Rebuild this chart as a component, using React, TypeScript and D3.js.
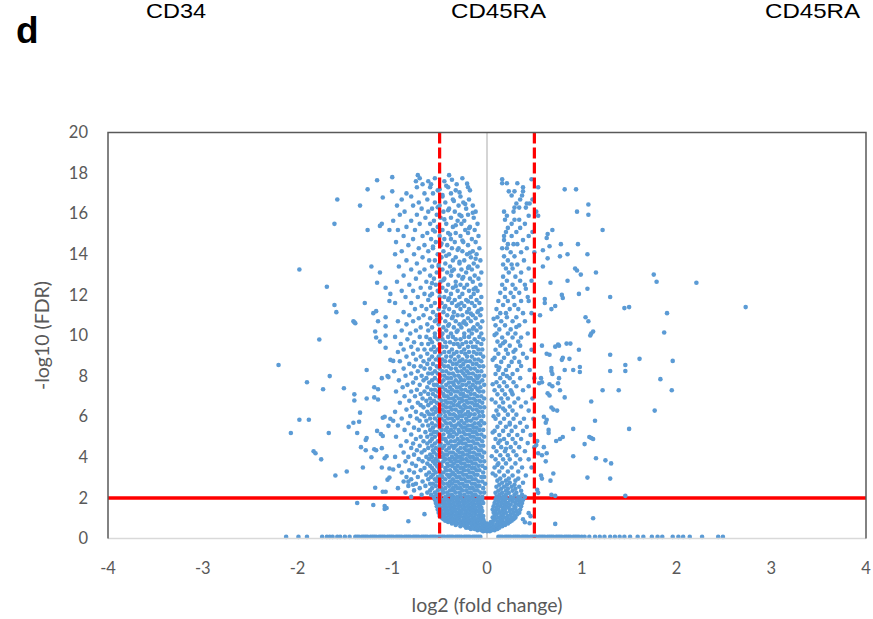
import React from 'react';
import * as d3 from 'd3';

const xTicks = [-4, -3, -2, -1, 0, 1, 2, 3, 4];
const yTicks = [0, 2, 4, 6, 8, 10, 12, 14, 16, 18, 20];
const fdrCut = 2;
const fcCuts = [-0.5, 0.5];
const headers = ['CD34', 'CD45RA', 'CD45RA'];

// genes with FDR = 1, they sit on the axis
const baseline = [
  -2.12, -1.99, -1.9, -1.74, -1.69, -1.66, -1.63, -1.58, -1.55, -1.5, -1.45,
  -1.39, -1.37, -1.35, -1.32, -1.3, -1.28, -1.26, -1.23, -1.21, -1.19, -1.17, -1.14, -1.12, -1.1,
  -1.08, -1.05, -1.03, -1.01, -0.99, -0.96, -0.94, -0.92, -0.9, -0.87, -0.85, -0.83, -0.81, -0.78,
  -0.76, -0.74, -0.72, -0.69, -0.67, -0.65, -0.63, -0.6, -0.58, -0.56, -0.54, -0.51, -0.49, -0.47,
  -0.45, -0.42, -0.4, -0.38, -0.36, -0.33, -0.31, -0.29, -0.27, -0.24, -0.22, -0.2, -0.18, -0.15,
  -0.13, -0.11, -0.09, -0.07,
  0.12, 0.14, 0.16, 0.19, 0.21, 0.23, 0.25, 0.28, 0.3, 0.32, 0.34, 0.37, 0.39, 0.41, 0.43, 0.46,
  0.48, 0.5, 0.52, 0.55, 0.57, 0.59, 0.61, 0.64, 0.66, 0.68, 0.7, 0.73, 0.75, 0.77, 0.79, 0.82,
  0.84, 0.86, 0.88, 0.91, 0.93, 0.95, 0.97, 1.0, 1.03, 1.08, 1.14, 1.19, 1.24, 1.3, 1.35, 1.4,
  1.45, 1.51, 1.59, 1.65, 1.74, 1.8, 1.85, 1.96, 2.02, 2.07, 2.14, 2.27, 2.44, 2.49,
];
const baselineY = 0.08;

// rows: [-log10 FDR, log2 FC, log2 FC, ...]
const leftRows = [
  [17.9, -0.4, -0.73], [17.75, -0.55, -0.26, -0.71], [17.6, -0.62, -0.45, -0.75],
  [17.45, -0.32, -0.59, -0.68], [17.3, -0.2, -0.74, -0.41, -0.6], [17.15, -0.33, -0.52, -0.18],
  [17.0, -0.38, -0.57, -0.66, -0.85], [16.85, -0.28, -0.47, -0.8], [16.7, -0.19, -0.36, -0.63, -0.9],
  [16.55, -0.25, -0.44, -0.55, -0.72], [16.4, -0.15, -0.3, -0.5, -0.78, -0.95],
  [16.25, -0.22, -0.4, -0.58, -0.69], [16.1, -0.12, -0.34, -0.46, -0.62, -0.87],
  [15.95, -0.2, -0.29, -0.53, -0.74, -0.92], [15.8, -0.14, -0.38, -0.49, -0.65],
  [15.65, -0.24, -0.31, -0.56, -0.8, -0.99], [15.5, -0.1, -0.27, -0.43, -0.6, -0.71],
  [15.35, -0.18, -0.36, -0.52, -0.85], [15.2, -0.13, -0.23, -0.47, -0.57, -0.76, -0.94],
  [15.05, -0.2, -0.33, -0.41, -0.63], [14.9, -0.09, -0.28, -0.5, -0.68, -0.88],
  [14.75, -0.16, -0.38, -0.45, -0.59, -0.78], [14.6, -0.12, -0.25, -0.34, -0.54, -0.96],
  [14.45, -0.2, -0.42, -0.49, -0.66, -0.83], [14.3, -0.08, -0.3, -0.37, -0.57, -0.72],
  [14.15, -0.15, -0.26, -0.46, -0.62, -0.9], [14.0, -0.11, -0.21, -0.4, -0.52, -0.77, -0.97],
  [13.85, -0.17, -0.33, -0.48, -0.68], [13.7, -0.07, -0.24, -0.36, -0.55, -0.61, -0.85],
  [13.55, -0.14, -0.29, -0.44, -0.74], [13.4, -0.1, -0.19, -0.39, -0.51, -0.58, -0.93],
  [13.25, -0.16, -0.27, -0.35, -0.47, -0.66, -0.8], [13.1, -0.06, -0.22, -0.42, -0.53, -0.71],
  [12.95, -0.13, -0.3, -0.38, -0.6, -0.88], [12.8, -0.09, -0.18, -0.26, -0.45, -0.56, -0.75],
  [12.65, -0.15, -0.33, -0.49, -0.64, -0.95], [12.5, -0.07, -0.21, -0.28, -0.41, -0.54, -0.82],
  [12.35, -0.12, -0.24, -0.36, -0.47, -0.6, -0.7], [12.2, -0.1, -0.19, -0.31, -0.43, -0.52, -0.78, -0.9],
  [12.05, -0.14, -0.26, -0.38, -0.58, -0.66], [11.9, -0.06, -0.17, -0.29, -0.45, -0.5, -0.73, -0.86],
  [11.75, -0.11, -0.22, -0.34, -0.41, -0.62], [11.6, -0.08, -0.16, -0.27, -0.37, -0.48, -0.55, -0.8, -0.97],
  [11.45, -0.13, -0.24, -0.32, -0.44, -0.59, -0.69], [11.3, -0.06, -0.19, -0.28, -0.4, -0.51, -0.64, -0.76],
  [11.15, -0.1, -0.21, -0.35, -0.46, -0.57, -0.88], [11.0, -0.07, -0.15, -0.26, -0.31, -0.42, -0.53, -0.67, -0.82],
  [10.85, -0.12, -0.2, -0.37, -0.49, -0.6, -0.72], [10.7, -0.05, -0.17, -0.24, -0.33, -0.44, -0.55, -0.78, -0.94],
  [10.55, -0.1, -0.22, -0.29, -0.4, -0.51, -0.63, -0.85], [10.4, -0.07, -0.14, -0.27, -0.35, -0.46, -0.58, -0.7],
  [10.25, -0.11, -0.19, -0.31, -0.43, -0.5, -0.62, -0.75, -0.9], [10.1, -0.06, -0.16, -0.24, -0.38, -0.47, -0.55, -0.81],
  [9.93, -0.08, -0.19, -0.24, -0.36, -0.41, -0.55, -0.64, -0.71, -0.97],
  [9.81, -0.04, -0.13, -0.28, -0.33, -0.47, -0.52, -0.6, -0.84],
  [9.67, -0.1, -0.17, -0.22, -0.39, -0.44, -0.58, -0.77],
  [9.58, -0.06, -0.26, -0.31, -0.35, -0.5, -0.62, -0.69, -0.91],
  [9.44, -0.12, -0.15, -0.2, -0.29, -0.43, -0.47, -0.56, -0.8],
  [9.31, -0.05, -0.09, -0.24, -0.37, -0.52, -0.59, -0.66, -0.73, -0.88],
  [9.19, -0.14, -0.19, -0.27, -0.32, -0.4, -0.45, -0.55, -0.94],
  [9.1, -0.07, -0.11, -0.23, -0.35, -0.49, -0.63, -0.78],
  [8.96, -0.04, -0.16, -0.21, -0.3, -0.38, -0.43, -0.51, -0.58, -0.7, -0.85],
  [8.82, -0.09, -0.13, -0.26, -0.34, -0.47, -0.54, -0.61, -0.75],
  [8.73, -0.06, -0.18, -0.22, -0.29, -0.39, -0.44, -0.5, -0.67, -0.92],
  [8.6, -0.11, -0.15, -0.25, -0.32, -0.36, -0.48, -0.57, -0.63, -0.82],
  [8.48, -0.04, -0.08, -0.2, -0.28, -0.41, -0.45, -0.53, -0.7, -0.77],
  [8.37, -0.13, -0.17, -0.24, -0.33, -0.38, -0.5, -0.6, -0.66, -0.88],
  [8.24, -0.06, -0.1, -0.21, -0.27, -0.31, -0.43, -0.47, -0.55, -0.73, -0.98],
  [8.13, -0.15, -0.19, -0.25, -0.36, -0.4, -0.52, -0.58, -0.62, -0.8],
  [8.02, -0.03, -0.08, -0.12, -0.23, -0.3, -0.34, -0.45, -0.49, -0.69, -0.86],
  [7.9, -0.1, -0.17, -0.2, -0.28, -0.38, -0.42, -0.55, -0.64, -0.75],
  [7.79, -0.05, -0.14, -0.24, -0.27, -0.33, -0.46, -0.51, -0.58, -0.67, -0.93],
  [7.68, -0.08, -0.11, -0.19, -0.3, -0.36, -0.4, -0.48, -0.61, -0.78],
  [7.57, -0.03, -0.15, -0.22, -0.26, -0.35, -0.43, -0.53, -0.56, -0.71, -0.84],
  [7.45, -0.07, -0.12, -0.18, -0.29, -0.32, -0.39, -0.47, -0.5, -0.63, -0.89],
  [7.33, -0.1, -0.16, -0.23, -0.27, -0.37, -0.44, -0.55, -0.59, -0.74],
  [7.24, -0.04, -0.08, -0.2, -0.31, -0.34, -0.41, -0.49, -0.52, -0.66, -0.8, -0.96],
  [7.12, -0.13, -0.17, -0.25, -0.28, -0.38, -0.46, -0.57, -0.62, -0.7],
  [7.01, -0.06, -0.1, -0.21, -0.24, -0.33, -0.42, -0.45, -0.54, -0.76, -0.87],
  [6.9, -0.03, -0.14, -0.18, -0.27, -0.3, -0.36, -0.4, -0.5, -0.6, -0.68],
  [6.78, -0.08, -0.12, -0.22, -0.26, -0.34, -0.44, -0.48, -0.56, -0.64, -0.82],
  [6.69, -0.05, -0.16, -0.2, -0.29, -0.38, -0.42, -0.53, -0.59, -0.73, -0.92],
  [6.57, -0.1, -0.13, -0.24, -0.31, -0.35, -0.46, -0.5, -0.62, -0.7],
  [6.46, -0.03, -0.07, -0.18, -0.22, -0.28, -0.39, -0.43, -0.55, -0.67, -0.79],
  [6.35, -0.11, -0.15, -0.25, -0.33, -0.37, -0.47, -0.52, -0.58, -0.85],
  [6.24, -0.05, -0.09, -0.2, -0.27, -0.3, -0.41, -0.45, -0.54, -0.63, -0.75, -0.97],
  [6.12, -0.13, -0.17, -0.23, -0.35, -0.39, -0.49, -0.57, -0.61, -0.69],
  [6.03, -0.04, -0.08, -0.19, -0.26, -0.29, -0.33, -0.44, -0.51, -0.66, -0.81],
  [5.91, -0.11, -0.14, -0.22, -0.31, -0.37, -0.41, -0.48, -0.55, -0.6, -0.74, -0.9],
  [5.8, -0.06, -0.17, -0.21, -0.27, -0.35, -0.45, -0.52, -0.64, -0.71],
  [5.68, -0.03, -0.09, -0.13, -0.24, -0.3, -0.39, -0.43, -0.5, -0.58, -0.83],
  [5.57, -0.07, -0.16, -0.2, -0.28, -0.33, -0.37, -0.47, -0.54, -0.62, -0.68, -0.94],
  [5.46, -0.11, -0.14, -0.23, -0.26, -0.34, -0.42, -0.5, -0.57, -0.77],
  [5.35, -0.04, -0.08, -0.18, -0.21, -0.3, -0.38, -0.44, -0.48, -0.6, -0.72, -0.87],
  [5.24, -0.12, -0.15, -0.25, -0.29, -0.35, -0.41, -0.53, -0.56, -0.65],
  [5.12, -0.06, -0.1, -0.19, -0.23, -0.32, -0.39, -0.46, -0.51, -0.59, -0.8],
  [5.01, -0.03, -0.14, -0.17, -0.27, -0.36, -0.4, -0.49, -0.55, -0.63, -0.7, -0.96],
  [4.9, -0.08, -0.11, -0.21, -0.25, -0.31, -0.44, -0.47, -0.58, -0.75],
  [4.79, -0.05, -0.15, -0.19, -0.28, -0.34, -0.38, -0.43, -0.52, -0.6, -0.67, -0.85],
  [4.68, -0.1, -0.13, -0.23, -0.26, -0.3, -0.41, -0.49, -0.55, -0.63, -0.78],
  [4.57, -0.04, -0.07, -0.17, -0.21, -0.33, -0.37, -0.45, -0.5, -0.58, -0.71, -0.91],
  [4.46, -0.12, -0.16, -0.24, -0.28, -0.35, -0.4, -0.47, -0.54, -0.62, -0.8],
  [4.35, -0.06, -0.09, -0.19, -0.22, -0.31, -0.43, -0.51, -0.57, -0.66, -0.74],
  [4.24, -0.03, -0.14, -0.18, -0.26, -0.29, -0.36, -0.39, -0.48, -0.56, -0.69, -0.88],
  [4.13, -0.08, -0.11, -0.21, -0.25, -0.33, -0.42, -0.45, -0.53, -0.6, -0.77],
  [4.02, -0.05, -0.15, -0.18, -0.28, -0.31, -0.37, -0.47, -0.5, -0.58, -0.64, -0.83, -0.97],
  [3.91, -0.1, -0.13, -0.22, -0.26, -0.34, -0.4, -0.44, -0.54, -0.61, -0.72],
  [3.8, -0.03, -0.07, -0.17, -0.2, -0.29, -0.32, -0.38, -0.46, -0.52, -0.57, -0.68, -0.86],
  [3.69, -0.12, -0.15, -0.24, -0.27, -0.35, -0.42, -0.49, -0.55, -0.63, -0.79],
  [3.58, -0.05, -0.09, -0.19, -0.22, -0.31, -0.37, -0.41, -0.48, -0.53, -0.6, -0.75, -0.93],
  [3.47, -0.02, -0.13, -0.16, -0.25, -0.28, -0.34, -0.44, -0.51, -0.58, -0.66],
  [3.36, -0.08, -0.11, -0.2, -0.24, -0.32, -0.39, -0.43, -0.5, -0.56, -0.7, -0.82],
  [3.25, -0.04, -0.15, -0.18, -0.27, -0.3, -0.36, -0.46, -0.54, -0.61, -0.77, -0.9],
  [3.14, -0.1, -0.13, -0.22, -0.25, -0.34, -0.38, -0.42, -0.49, -0.57, -0.64],
  [3.03, -0.03, -0.06, -0.17, -0.2, -0.29, -0.32, -0.4, -0.47, -0.52, -0.59, -0.73, -0.85],
  [2.92, -0.12, -0.15, -0.24, -0.27, -0.36, -0.44, -0.5, -0.55, -0.62, -0.8],
  [2.81, -0.05, -0.09, -0.19, -0.22, -0.31, -0.34, -0.39, -0.48, -0.53, -0.68, -0.88],
  [2.7, -0.02, -0.13, -0.16, -0.26, -0.29, -0.37, -0.42, -0.46, -0.57, -0.6, -0.75],
  [2.59, -0.08, -0.11, -0.21, -0.24, -0.33, -0.4, -0.5, -0.54, -0.65, -0.83],
  [2.48, -0.04, -0.15, -0.18, -0.28, -0.31, -0.36, -0.44, -0.48, -0.58, -0.71, -0.94],
  [2.37, -0.1, -0.13, -0.22, -0.26, -0.35, -0.39, -0.47, -0.52, -0.6, -0.77],
  [2.26, -0.03, -0.07, -0.17, -0.2, -0.29, -0.33, -0.42, -0.46, -0.55, -0.63, -0.86],
  [2.15, -0.12, -0.15, -0.24, -0.28, -0.37, -0.41, -0.49, -0.53, -0.59, -0.69],
  [2.05, -0.05, -0.09, -0.19, -0.22, -0.31, -0.35, -0.44, -0.5, -0.56, -0.8],
];

// the V at the bottom, both sides of zero
const vRows = [
  [0.36, -0.04, 0.0, 0.03],
  [0.41, -0.1, -0.06, -0.01, 0.05, 0.08],
  [0.47, -0.17, -0.13, -0.08, -0.03, 0.02, 0.06, 0.11],
  [0.53, -0.22, -0.19, -0.12, -0.07, -0.02, 0.04, 0.09, 0.13],
  [0.6, -0.28, -0.23, -0.16, -0.11, -0.05, 0.0, 0.07, 0.12, 0.16],
  [0.67, -0.33, -0.27, -0.21, -0.14, -0.09, -0.03, 0.03, 0.1, 0.15, 0.19],
  [0.74, -0.37, -0.31, -0.25, -0.18, -0.12, -0.06, 0.0, 0.06, 0.13, 0.18, 0.22],
  [0.81, -0.41, -0.35, -0.28, -0.22, -0.16, -0.1, -0.03, 0.04, 0.11, 0.17, 0.24],
  [0.88, -0.44, -0.38, -0.32, -0.25, -0.19, -0.13, -0.07, 0.07, 0.14, 0.21, 0.26],
  [0.95, -0.46, -0.4, -0.34, -0.29, -0.23, -0.16, -0.1, -0.04, 0.09, 0.16, 0.23, 0.28],
  [1.03, -0.48, -0.43, -0.37, -0.31, -0.25, -0.2, -0.13, -0.07, 0.06, 0.12, 0.19, 0.26, 0.3],
  [1.11, -0.5, -0.45, -0.39, -0.33, -0.28, -0.22, -0.16, -0.09, -0.04, 0.08, 0.15, 0.22, 0.29],
  [1.19, -0.47, -0.41, -0.36, -0.3, -0.24, -0.18, -0.12, -0.06, 0.1, 0.17, 0.25, 0.32],
  [1.27, -0.51, -0.44, -0.38, -0.32, -0.27, -0.21, -0.14, -0.08, 0.07, 0.13, 0.2, 0.28, 0.34],
  [1.35, -0.48, -0.42, -0.35, -0.29, -0.23, -0.17, -0.11, -0.05, 0.09, 0.16, 0.24, 0.31],
  [1.43, -0.52, -0.45, -0.39, -0.33, -0.26, -0.2, -0.14, -0.08, 0.06, 0.12, 0.19, 0.27, 0.35],
  [1.51, -0.49, -0.43, -0.37, -0.3, -0.24, -0.18, -0.12, -0.06, 0.1, 0.17, 0.23, 0.3],
  [1.59, -0.53, -0.46, -0.4, -0.34, -0.28, -0.21, -0.15, -0.09, 0.07, 0.14, 0.21, 0.29, 0.36],
  [1.67, -0.5, -0.44, -0.38, -0.31, -0.25, -0.19, -0.13, -0.07, 0.11, 0.18, 0.25, 0.33],
  [1.75, -0.54, -0.47, -0.41, -0.35, -0.29, -0.23, -0.16, -0.1, -0.04, 0.08, 0.15, 0.22, 0.3, 0.37],
  [1.83, -0.51, -0.45, -0.39, -0.32, -0.26, -0.2, -0.14, -0.08, 0.12, 0.19, 0.27, 0.34],
  [1.91, -0.55, -0.48, -0.42, -0.36, -0.3, -0.24, -0.18, -0.11, -0.05, 0.09, 0.16, 0.24, 0.31, 0.38],
  [1.98, -0.5, -0.44, -0.37, -0.33, -0.27, -0.21, -0.15, -0.08, 0.13, 0.2, 0.28, 0.35],
  [2.05, 0.1, 0.17, 0.25, 0.33, 0.4], [2.15, 0.13, 0.2, 0.29, 0.37], [2.25, 0.09, 0.16, 0.23, 0.31],
  [2.35, 0.12, 0.2, 0.27, 0.36], [2.45, 0.15, 0.22, 0.3], [2.55, 0.1, 0.18, 0.26, 0.34],
  [2.65, 0.13, 0.21, 0.29], [2.75, 0.16, 0.24, 0.38], [2.85, 0.11, 0.2, 0.3], [2.95, 0.14, 0.23, 0.33],
];

const rightRows = [
  [3.1, 0.09, 0.18, 0.27, 0.41], [3.3, 0.13, 0.22, 0.33], [3.5, 0.08, 0.16, 0.26, 0.37, 0.47],
  [3.7, 0.12, 0.2, 0.3], [3.9, 0.09, 0.17, 0.24, 0.35, 0.44], [4.1, 0.14, 0.22, 0.31],
  [4.3, 0.1, 0.19, 0.28, 0.4], [4.5, 0.07, 0.15, 0.25, 0.34, 0.5], [4.7, 0.12, 0.21, 0.3, 0.43],
  [4.9, 0.09, 0.18, 0.27, 0.36], [5.1, 0.13, 0.23, 0.32, 0.46], [5.3, 0.08, 0.17, 0.26, 0.38],
  [5.5, 0.11, 0.2, 0.3, 0.42], [5.7, 0.14, 0.24, 0.35], [5.9, 0.09, 0.18, 0.28, 0.39, 0.49],
  [6.1, 0.12, 0.22, 0.31], [6.3, 0.1, 0.19, 0.27, 0.44], [6.5, 0.13, 0.24, 0.36],
  [6.7, 0.09, 0.17, 0.29, 0.41], [6.9, 0.15, 0.22, 0.33, 0.48], [7.1, 0.11, 0.19, 0.27],
  [7.3, 0.08, 0.16, 0.25, 0.38], [7.5, 0.13, 0.21, 0.31, 0.44], [7.7, 0.1, 0.18, 0.28],
  [7.9, 0.14, 0.24, 0.35, 0.5], [8.1, 0.09, 0.17, 0.27], [8.3, 0.12, 0.2, 0.32, 0.45],
  [8.5, 0.1, 0.23, 0.36], [8.7, 0.15, 0.26, 0.34], [8.9, 0.08, 0.18, 0.29, 0.42],
  [9.1, 0.12, 0.22, 0.38], [9.3, 0.09, 0.2, 0.3, 0.47], [9.5, 0.14, 0.24, 0.35],
  [9.7, 0.11, 0.19, 0.33], [9.9, 0.16, 0.27, 0.36], [10.1, 0.1, 0.22, 0.3, 0.43],
  [10.3, 0.13, 0.25], [10.5, 0.09, 0.19, 0.34], [10.7, 0.15, 0.27, 0.4], [10.9, 0.11, 0.21, 0.31],
  [11.1, 0.14, 0.2, 0.38, 0.47], [11.3, 0.1, 0.24, 0.33], [11.5, 0.17, 0.29],
  [11.7, 0.12, 0.22, 0.36, 0.44], [11.9, 0.19, 0.28, 0.43], [12.1, 0.14, 0.25, 0.34],
  [12.3, 0.19, 0.3, 0.41], [12.5, 0.16, 0.27, 0.4], [12.7, 0.21, 0.35, 0.47], [12.9, 0.17, 0.3],
  [13.1, 0.23, 0.36], [13.3, 0.2, 0.27, 0.44], [13.5, 0.17, 0.26, 0.32], [13.7, 0.22, 0.39],
  [13.9, 0.18, 0.29], [14.1, 0.25, 0.36, 0.5], [14.3, 0.16, 0.21, 0.42], [14.5, 0.22, 0.28, 0.32],
  [14.7, 0.18, 0.38], [14.9, 0.18, 0.26, 0.44], [15.1, 0.2, 0.31, 0.48], [15.3, 0.22, 0.35],
  [15.5, 0.26, 0.4], [15.7, 0.19, 0.29, 0.34], [15.9, 0.21, 0.44, 0.54], [16.1, 0.18, 0.28, 0.52],
  [16.3, 0.29, 0.34, 0.41], [16.5, 0.31, 0.42, 0.45], [16.7, 0.35, 0.48], [16.9, 0.26, 0.37],
  [17.1, 0.23, 0.29, 0.38], [17.3, 0.38, 0.54], [17.5, 0.16, 0.21, 0.32], [17.7, 0.16, 0.47],
];

// [log2 FC, -log10 FDR] — extra genes in the upper left core and along the right core's inner edge
const leftUpper = [
  [-0.43, 17.38], [-0.29, 17.05], [-0.47, 16.92], [-0.35, 16.63], [-0.23, 16.48], [-0.52, 16.32],
  [-0.41, 16.17], [-0.27, 15.88], [-0.45, 15.72], [-0.33, 15.43], [-0.19, 15.28], [-0.55, 15.12],
  [-0.39, 14.97], [-0.26, 14.68], [-0.48, 14.53], [-0.31, 14.22], [-0.18, 14.08], [-0.43, 13.93],
  [-0.29, 13.63], [-0.51, 13.48], [-0.2, 13.33], [-0.37, 13.18], [-0.25, 12.88], [-0.46, 12.73],
  [-0.33, 12.43], [-0.14, 12.28], [-0.5, 12.12], [-0.4, 11.83], [-0.2, 11.68], [-0.3, 11.52],
  [-0.45, 11.38], [-0.17, 11.08], [-0.36, 10.93], [-0.53, 10.78], [-0.25, 10.63], [-0.41, 10.48],
  [-0.15, 10.33], [-0.32, 10.18], [-0.48, 10.03], [-0.21, 17.48], [-0.37, 17.67], [-0.5, 17.2],
  [-0.15, 16.05], [-0.57, 14.38], [-0.12, 13.78], [-0.58, 12.58], [-0.09, 11.22], [-0.6, 11.97],
];

const rightInner = [
  [0.06, 3.2], [0.11, 3.62], [0.05, 4.05], [0.2, 4.42], [0.14, 4.83], [0.06, 5.22], [0.24, 5.62],
  [0.07, 6.02], [0.17, 6.4], [0.05, 6.85], [0.26, 7.22], [0.06, 7.6], [0.21, 8.0], [0.13, 8.42],
  [0.06, 8.8], [0.28, 9.2], [0.17, 9.62], [0.08, 10.02], [0.31, 10.42], [0.07, 10.82],
];

const farLeft = [
  [-1.98, 13.25], [-1.58, 16.7], [-1.61, 15.5], [-1.69, 12.4], [-1.61, 11.5], [-1.59, 11.15],
  [-1.41, 10.7], [-1.39, 10.6], [-1.29, 11.6], [-1.34, 16.4], [-1.26, 17.2], [-1.16, 17.65],
  [-1.0, 17.8], [-1.0, 17.1], [-1.1, 16.8], [-1.26, 15.2], [-1.13, 15.4], [-1.11, 15.5],
  [-1.03, 15.2], [-1.22, 13.4], [-1.13, 13.1], [-1.16, 12.6], [-1.07, 12.35], [-1.02, 12.05],
  [-1.03, 11.7], [-1.2, 11.1], [-1.17, 11.2], [-1.15, 10.7], [-1.07, 10.9],
  [-1.77, 9.8], [-2.2, 8.55], [-1.9, 7.7], [-1.66, 8.0], [-1.73, 7.35], [-1.51, 7.4],
  [-1.4, 7.1], [-1.4, 6.8], [-1.27, 8.3], [-1.27, 6.9], [-1.98, 5.85], [-1.88, 5.85],
  [-2.07, 5.2], [-1.67, 5.2], [-1.83, 4.3], [-1.81, 4.2], [-1.75, 3.9], [-1.6, 3.1],
  [-1.48, 3.3], [-1.46, 5.5], [-1.37, 5.2], [-1.41, 5.7], [-1.35, 5.75], [-1.34, 6.2],
  [-1.27, 4.95], [-1.28, 4.85], [-1.33, 4.5], [-1.28, 4.35], [-1.31, 3.5], [-1.37, 1.75],
  [-1.18, 2.5], [-1.1, 2.3], [-1.07, 2.3], [-1.08, 1.6], [-1.06, 1.5], [-1.19, 7.45],
  [-1.15, 7.35], [-1.19, 6.95], [-1.15, 6.85], [-1.11, 7.9], [-1.18, 10.2], [-1.17, 9.9],
  [-1.13, 9.7], [-1.07, 10.0], [-1.07, 9.4], [-1.07, 10.45], [-1.4, 10.65], [-0.83, 0.85],
  [-0.66, 1.2], [-1.02, 8.8], [-0.99, 8.75], [-1.05, 8.0], [-1.04, 7.95], [-1.12, 5.15],
  [-1.1, 5.05], [-1.04, 5.55], [-1.1, 5.95], [-1.08, 6.0], [-1.02, 5.9], [-0.99, 5.8],
  [-1.16, 5.3], [-1.19, 4.4], [-1.17, 4.35], [-1.11, 4.45], [-1.22, 4.0], [-1.08, 3.95],
  [-1.06, 4.05], [-1.11, 3.5], [-1.03, 3.45], [-0.99, 3.4], [-1.05, 2.9], [-1.03, 3.0],
  [-1.08, 1.45], [-0.83, 2.8], [-0.78, 2.65], [-1.2, 1.65],
];

const rightWing = [
  [0.82, 17.2], [0.94, 17.2], [1.07, 16.45], [0.95, 16.1], [1.07, 15.95], [1.22, 15.2],
  [0.69, 15.2], [0.64, 15.0], [0.63, 14.8], [0.78, 14.5], [0.66, 14.4], [0.96, 14.5],
  [0.59, 14.2], [0.85, 14.0], [0.77, 13.9], [1.06, 14.0], [0.64, 13.8], [0.59, 13.4],
  [0.93, 13.3], [0.95, 13.2], [0.99, 13.0], [1.15, 13.1], [0.85, 12.7], [0.67, 12.6],
  [1.76, 13.0], [1.79, 12.65], [2.21, 12.6], [1.06, 12.3], [0.97, 12.05], [0.79, 12.0],
  [0.8, 11.85], [1.3, 11.9], [0.61, 11.8], [0.61, 11.6], [0.72, 11.45], [0.68, 11.3],
  [1.45, 11.35], [1.5, 11.4], [1.9, 11.1], [1.04, 10.9], [1.07, 10.7], [0.56, 11.0], [2.73, 11.4],
  [1.1, 10.1], [1.12, 10.2], [1.09, 10.0], [1.87, 10.15], [0.58, 9.5], [0.72, 9.45],
  [0.75, 9.55], [0.76, 9.5], [0.84, 9.6], [0.88, 9.6], [0.97, 9.3], [0.63, 9.1], [0.66, 9.05],
  [1.3, 9.05], [1.61, 8.85], [1.96, 8.75], [1.46, 8.55], [1.46, 8.25], [0.79, 8.8], [0.8, 8.9],
  [0.87, 8.85], [1.3, 8.25], [0.98, 8.45], [0.98, 8.2], [0.91, 8.3], [0.82, 8.3], [0.68, 8.4],
  [0.68, 8.25], [0.69, 8.1], [0.57, 7.9], [0.58, 7.7], [0.55, 7.65], [0.76, 7.9], [0.75, 7.65],
  [1.83, 7.85], [0.66, 7.6], [0.69, 7.5], [1.22, 7.3], [1.39, 7.3], [1.95, 7.3], [0.77, 7.3],
  [0.82, 6.95], [0.64, 7.15], [0.66, 7.05], [1.1, 6.75], [1.77, 6.3], [0.68, 6.45], [0.7, 6.35],
  [0.74, 6.3], [0.6, 6.0], [0.62, 5.7], [0.63, 5.85], [1.14, 5.8], [0.91, 5.4], [1.5, 5.4],
  [0.65, 5.35], [0.65, 5.2], [0.8, 5.0], [0.77, 4.9], [0.73, 4.8], [1.08, 5.0], [1.1, 4.95],
  [1.12, 4.9], [1.03, 4.65], [0.53, 4.8], [0.52, 4.6], [0.54, 4.2], [0.58, 4.1], [0.63, 4.2],
  [0.6, 4.5], [0.62, 3.8], [0.91, 4.05], [1.15, 3.95], [1.25, 3.85], [1.31, 3.7], [0.7, 3.2],
  [0.57, 3.1], [0.58, 2.95], [1.06, 3.0], [1.3, 2.95], [0.67, 2.85], [0.68, 2.15], [0.72, 2.1],
  [1.46, 2.1], [0.54, 2.25], [0.53, 2.4], [1.12, 1.0], [0.72, 0.72], [0.45, 0.75], [0.4, 0.8],
  [0.38, 0.95], [0.46, 1.1], [0.44, 1.25],
];

const rowsToPairs = (rows: number[][]) =>
  rows.flatMap(([yv, ...xs]) => xs.map((xv) => [xv, yv]));

const textColor = '#595959';
const font = "Lato, 'Open Sans', sans-serif";
const headFont = "'Liberation Sans', Arial, sans-serif";

export default function App() {
  const width = 873;
  const height = 619;
  const x = d3.scaleLinear().domain([-4, 4]).range([108, 866]);
  const y = d3.scaleLinear().domain([0, 20]).range([538.5, 132.5]);

  const points = [
    ...baseline.map((v) => [v, baselineY]),
    ...rowsToPairs(leftRows),
    ...rowsToPairs(vRows),
    ...rowsToPairs(rightRows),
    ...leftUpper,
    ...rightInner,
    ...farLeft,
    ...rightWing,
  ];

  const [x0, x1] = x.range();
  const [y0, y1] = y.range();

  return (
    <svg width={width} height={height}
         style={{ position: 'absolute', left: 0, top: 0, background: '#fff' }}>
      {/* panel headers at the top edge */}
      <text x={16} y={43} fontFamily={headFont} fontWeight="bold" fontSize={37} fill="#000">d</text>
      <text x={146} y={18} fontFamily={headFont} fontSize={21}
            textLength={60} lengthAdjust="spacingAndGlyphs" fill="#000">{headers[0]}</text>
      <text x={451} y={18} fontFamily={headFont} fontSize={21}
            textLength={95} lengthAdjust="spacingAndGlyphs" fill="#000">{headers[1]}</text>
      <text x={765} y={18} fontFamily={headFont} fontSize={21}
            textLength={95} lengthAdjust="spacingAndGlyphs" fill="#000">{headers[2]}</text>

      <line x1={x(0)} x2={x(0)} y1={y0} y2={y1} stroke="#bfbfbf" strokeWidth={1.3} />
      <line x1={x0} x2={x1} y1={y(fdrCut)} y2={y(fdrCut)} stroke="#ff0000" strokeWidth={3.5} />

      <g>
        {points.map(([px, py], i) => (
          <circle key={i} cx={x(px)} cy={y(py)} r={2.3} fill="#5b9bd5" />
        ))}
      </g>

      {fcCuts.map((c) => (
        <line key={c} x1={x(c)} x2={x(c)} y1={y1} y2={y0}
              stroke="#ff0000" strokeWidth={3.2} strokeDasharray="11 4" />
      ))}

      <line x1={x0} x2={x1} y1={y0} y2={y0} stroke="#d9d9d9" strokeWidth={1.5} />
      <path d={`M${x0},${y0}V${y1}H${x1}V${y0}`} fill="none" stroke="#595959" strokeWidth={1.5} />

      {yTicks.map((t) => (
        <text key={t} x={88} y={y(t)} dy="0.35em" textAnchor="end"
              fontFamily={font} fontSize={16.5} fill={textColor}>{t}</text>
      ))}
      {xTicks.map((t) => (
        <text key={t} x={x(t)} y={568} dy="0.35em" textAnchor="middle"
              fontFamily={font} fontSize={16.5} fill={textColor}>{t}</text>
      ))}

      <text x={x(0)} y={605} dy="0.35em" textAnchor="middle"
            fontFamily={font} fontSize={19.5} fill={textColor}>log2 (fold change)</text>
      <text transform={`translate(42,${(y0 + y1) / 2}) rotate(-90)`} dy="0.35em"
            textAnchor="middle" fontFamily={font} fontSize={19.5} fill={textColor}>-log10 (FDR)</text>
    </svg>
  );
}
